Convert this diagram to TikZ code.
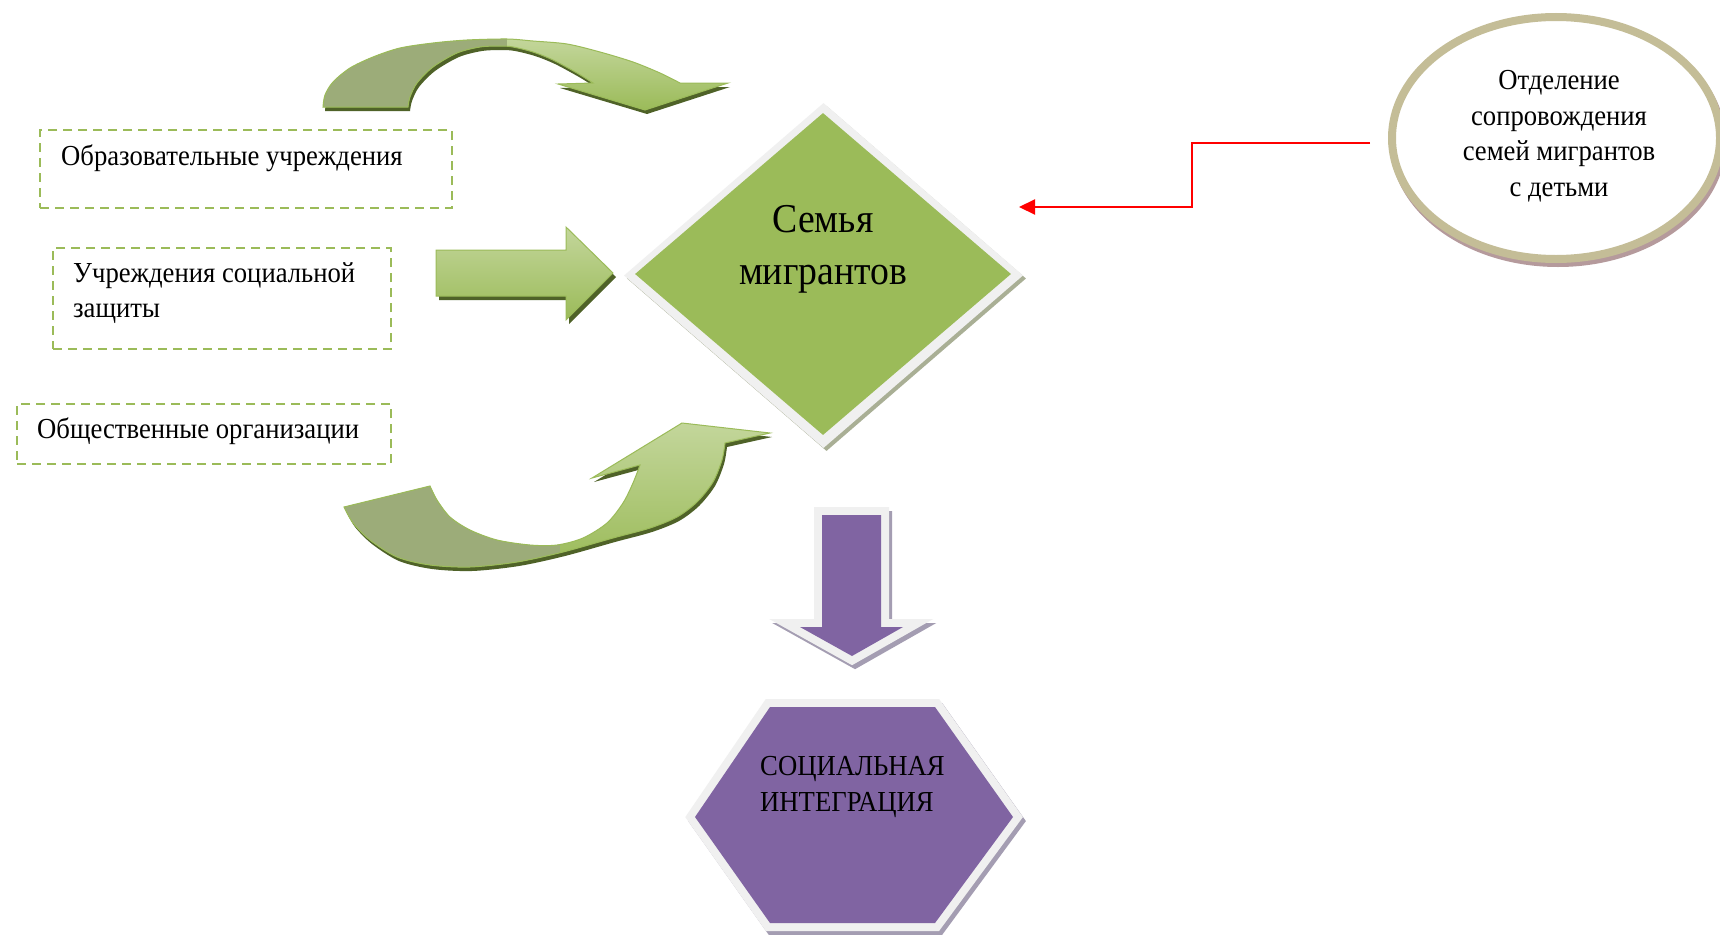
\documentclass[tikz,border=0pt]{standalone}
\usepackage{fontspec}
\setmainfont{Liberation Serif}[FakeStretch=0.92]
\usetikzlibrary{arrows.meta,shapes.geometric}
\definecolor{ogreen}{HTML}{9BBB59}
\definecolor{lgreen}{HTML}{C3D69B}
\definecolor{dgreen}{HTML}{4F6228}
\definecolor{olivetail}{HTML}{9CAC79}
\definecolor{opurple}{HTML}{8064A2}
\definecolor{framegrey}{HTML}{F0F0F0}
\definecolor{pshadow}{HTML}{A49DB2}
\definecolor{gshadow}{HTML}{A9AF95}
\definecolor{beige}{HTML}{C4BD97}
\definecolor{mauve}{HTML}{B59A9C}
\newcommand\TopArrowPath{(323,107) -- plot[smooth] coordinates {(323,107) (325,95) (333,82) (350,68) (373,57) (400,48) (433,43) (467,40) (507,39) (533,41) (567,44) (600,52) (633,62) (660,73) (680,83)} -- (728,83) -- (645,110) -- (558,84) -- (593,83) -- plot[smooth] coordinates {(593,83) (577,73) (553,60) (533,52) (513,47) (500,46) (480,47) (457,53) (433,67) (417,83) (410,97) (408,107)} -- cycle}
\newcommand\BotArrowPath{(344,507) -- (430,486) -- plot[smooth] coordinates {(430,486) (437,500) (450,517) (470,530) (497,540) (530,545) (557,545) (583,538) (607,523) (623,503) (633,483) (640,465)} -- (592,478) -- (682,423) -- (770,433) -- (725,443) -- plot[smooth] coordinates {(725,443) (722,460) (713,482) (697,502) (677,517) (650,528) (613,538) (563,552) (517,562) (470,567) (430,565) (397,557) (370,540) (353,523) (344,507)} -- cycle}
\newcommand\RightArrowPath{(436,250) -- (566,250) -- (566,227) -- (613,273) -- (566,320) -- (566,296) -- (436,296) -- cycle}
\newcommand\DownArrowPath{(822,515) -- (881,515) -- (881,627) -- (903,627) -- (852,656) -- (800,627) -- (822,627) -- cycle}
\newcommand\HexPath{(770,707) -- (935,707) -- (1013,817) -- (935,923) -- (770,923) -- (695,817) -- cycle}
\tikzset{
  dbox/.style={draw=ogreen, line width=2pt, dash pattern=on 9pt off 6pt, inner sep=0pt, rectangle, anchor=north west},
  txt/.style={inner sep=0pt, font=\fontsize{29}{35}\selectfont, align=left},
  frameline/.style={line width=16pt, line join=miter, miter limit=20},
  arrowedge/.style={draw=ogreen, line width=1pt},
  ringnode/.style={ellipse, line width=8pt, minimum width=328pt, minimum height=242pt, inner sep=0pt},
  dia/.style={diamond, inner sep=0pt}
}
\begin{document}
\begin{tikzpicture}[x=1pt,y=-1pt]
\useasboundingbox[fill=white] (0,0) rectangle (1720,934);

% dashed boxes
\node[dbox, minimum width=412pt, minimum height=78pt] (b1) at (39,129) {};
\node[txt, anchor=base west] (t1) at (61,165) {Образовательные учреждения};
\node[dbox, minimum width=338pt, minimum height=101pt] (b2) at (52,247) {};
\node[txt, anchor=west] (t2) at (73,293) {Учреждения социальной\\защиты};
\node[dbox, minimum width=374pt, minimum height=60pt] (b3) at (16,403) {};
\node[txt, anchor=base west] (t3) at (37,438) {Общественные организации};

% top curved arrow
\fill[dgreen, shift={(2,4)}] \TopArrowPath;
\shade[top color=lgreen, bottom color=ogreen] \TopArrowPath;
\begin{scope}
  \clip \TopArrowPath;
  \fill[olivetail] (300,0) rectangle (507,130);
\end{scope}
\draw[arrowedge] \TopArrowPath;

% straight right arrow
\fill[dgreen, shift={(3,4)}] \RightArrowPath;
\shade[top color=lgreen, bottom color=ogreen] \RightArrowPath;
\draw[arrowedge] \RightArrowPath;

% bottom curved arrow
\fill[dgreen, shift={(2,4)}] \BotArrowPath;
\shade[top color=lgreen, bottom color=ogreen] \BotArrowPath;
\begin{scope}
  \clip \BotArrowPath;
  \fill[olivetail] (330,400) rectangle (560,590);
\end{scope}
\draw[arrowedge] \BotArrowPath;

% diamond
\node[dia, fill=gshadow, minimum width=399pt, minimum height=345pt] (famsh) at (826.5,278.5) {};
\node[dia, fill=framegrey, minimum width=399pt, minimum height=345pt] (famfr) at (823.5,275.5) {};
\node[dia, fill=ogreen, minimum width=376pt, minimum height=322pt] (fam) at (823,274) {};
\node[font=\fontsize{41}{52}\selectfont, align=center, inner sep=0pt] (famt) at (823,249) {Семья\\мигрантов};

% down arrow
\filldraw[pshadow, frameline, shift={(3,4)}] \DownArrowPath;
\filldraw[framegrey, frameline] \DownArrowPath;
\fill[opurple] \DownArrowPath;

% hexagon
\filldraw[pshadow, frameline, shift={(3,4)}] \HexPath;
\filldraw[framegrey, frameline] \HexPath;
\fill[opurple] \HexPath;
\node[font=\fontsize{29}{36}\selectfont, align=left, inner sep=0pt, anchor=west] (hext) at (760,787) {СОЦИАЛЬНАЯ\\ИНТЕГРАЦИЯ};

% ellipse
\node[ringnode, draw=mauve] (deptsh) at (1558,142) {};
\node[ringnode, draw=beige, fill=white] (dept) at (1556,138) {};
\node[font=\fontsize{29}{35.5}\selectfont, align=center, inner sep=0pt] (deptt) at (1559,136) {Отделение\\сопровождения\\семей мигрантов\\с детьми};

% red connector
\coordinate (redend) at (1019,207);
\draw[red, line width=2.2pt, -{Triangle[length=16pt,width=15pt]}] ([xshift=-18pt,yshift=-5pt]dept.west) -- ++(-178,0) |- (redend);
\end{tikzpicture}
\end{document}
